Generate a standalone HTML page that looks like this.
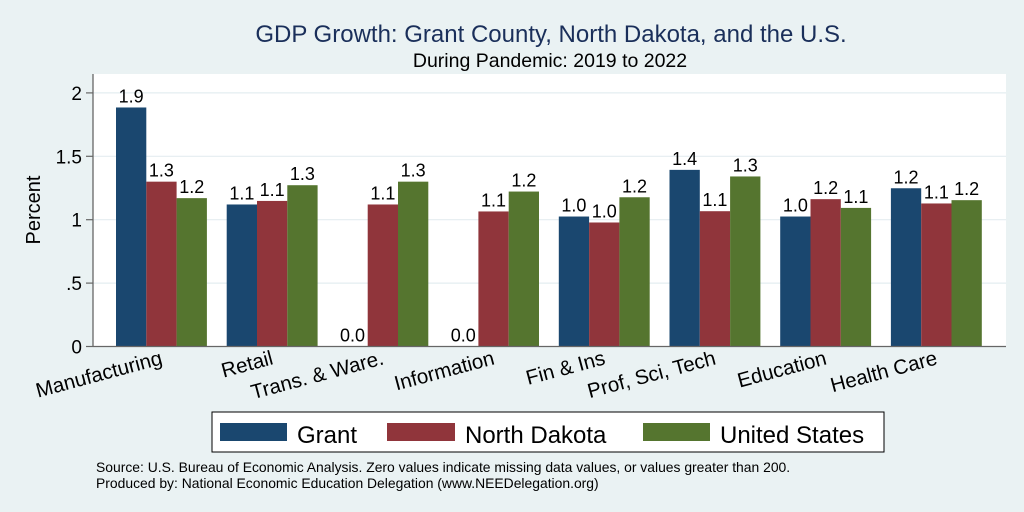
<!DOCTYPE html>
<html><head><meta charset="utf-8">
<style>
html,body{margin:0;padding:0;background:#eaf2f3;}
svg{display:block;font-family:"Liberation Sans",Arial,sans-serif;}
</style></head>
<body>
<svg id="chart" width="1024" height="512" viewBox="0 0 1024 512" xmlns="http://www.w3.org/2000/svg">
<rect x="0" y="0" width="1024" height="512" fill="#eaf2f3"/>
<text x="551" y="42" text-anchor="middle" font-size="24" fill="#1a2f5a">GDP Growth: Grant County, North Dakota, and the U.S.</text>
<text x="550" y="67" text-anchor="middle" font-size="19.5" fill="#000">During Pandemic: 2019 to 2022</text>
<rect x="93" y="74" width="913" height="272.5" fill="#fff"/>
<g id="grid"></g>
<g id="bars"></g>
<g id="vlabels"></g>
<line x1="93" y1="74" x2="93" y2="346.5" stroke="#666" stroke-width="1.3"/>
<line x1="93" y1="346.5" x2="1006" y2="346.5" stroke="#666" stroke-width="1.3"/>
<g id="yticks"></g>
<g id="xlabels"></g>
<text transform="translate(40,210) rotate(-90)" text-anchor="middle" font-size="20" fill="#000">Percent</text>
<g>
<rect x="212" y="412" width="672" height="40" fill="#fff" stroke="#000" stroke-width="1"/>
<rect x="220" y="423" width="67" height="18" fill="#1a476f"/>
<text x="297" y="443" font-size="24">Grant</text>
<rect x="387" y="423" width="68" height="18" fill="#90353b"/>
<text x="465" y="443" font-size="24">North Dakota</text>
<rect x="643" y="423" width="67" height="18" fill="#55752f"/>
<text x="720" y="443" font-size="24">United States</text>
</g>
<text x="96" y="472" font-size="13.9">Source: U.S. Bureau of Economic Analysis. Zero values indicate missing data values, or values greater than 200.</text>
<text x="96" y="488" font-size="13.9">Produced by: National Economic Education Delegation (www.NEEDelegation.org)</text>
</svg>
<script>
const categories = ["Manufacturing","Retail","Trans. & Ware.","Information","Fin & Ins","Prof, Sci, Tech","Education","Health Care"];
const grant = [1.885,1.12,0,0,1.025,1.393,1.025,1.248];
const northDakota = [1.30,1.148,1.12,1.065,0.978,1.067,1.162,1.128];
const unitedStates = [1.17,1.272,1.30,1.222,1.177,1.341,1.093,1.154];
const yTicks = [0,0.5,1,1.5,2];
const yTickLabels = ["0",".5","1","1.5","2"];

const NS="http://www.w3.org/2000/svg";
const y0=346.5, pxPerUnit=126.8;
function yScale(v){return y0 - v*pxPerUnit;}
const groupStart=116, groupStep=110.7, barW=30.3;
function xBar(i,s){return groupStart + i*groupStep + s*barW;}
function mk(tag,attrs,parent){const e=document.createElementNS(NS,tag);for(const k in attrs)e.setAttribute(k,attrs[k]);parent.appendChild(e);return e;}

const grid=document.getElementById('grid'), yt=document.getElementById('yticks');
yTicks.forEach((t,i)=>{
  const y=yScale(t);
  if(t>0){
    const g=mk('line',{x1:93,x2:1006,y1:y,y2:y,stroke:'#e4edf1','stroke-width':1.2},grid);
    
    
  }
  const tk=mk('line',{x1:86,x2:93,y1:y,y2:y,stroke:'#666','stroke-width':1.2},yt);
  
  
  const lb=mk('text',{x:82,y:y+7,'text-anchor':'end','font-size':19},yt);
  lb.textContent=yTickLabels[i];
  
  
});

const series=[[grant,'#1a476f','grant'],[northDakota,'#90353b','north-dakota'],[unitedStates,'#55752f','united-states']];
const bars=document.getElementById('bars'), vl=document.getElementById('vlabels');
categories.forEach((c,i)=>{
  series.forEach((s,si)=>{
    const v=s[0][i], x=xBar(i,si), y=yScale(v);
    const r=mk('rect',{x:x,y:y,width:barW,height:y0-y,fill:s[1]},bars);
    
    
    const t=mk('text',{x:x+barW/2,y:y-5,'text-anchor':'middle','font-size':18},vl);
    t.textContent=v.toFixed(1);
    
    
  });
});

const xl=document.getElementById('xlabels');
categories.forEach((c,i)=>{
  const cx=groupStart+i*groupStep+1.5*barW+2;
  const t=mk('text',{transform:'translate('+cx+',364) rotate(-15)','text-anchor':'end','font-size':20.5},xl);
  t.textContent=c;
  
  
});
</script>
</body></html>
